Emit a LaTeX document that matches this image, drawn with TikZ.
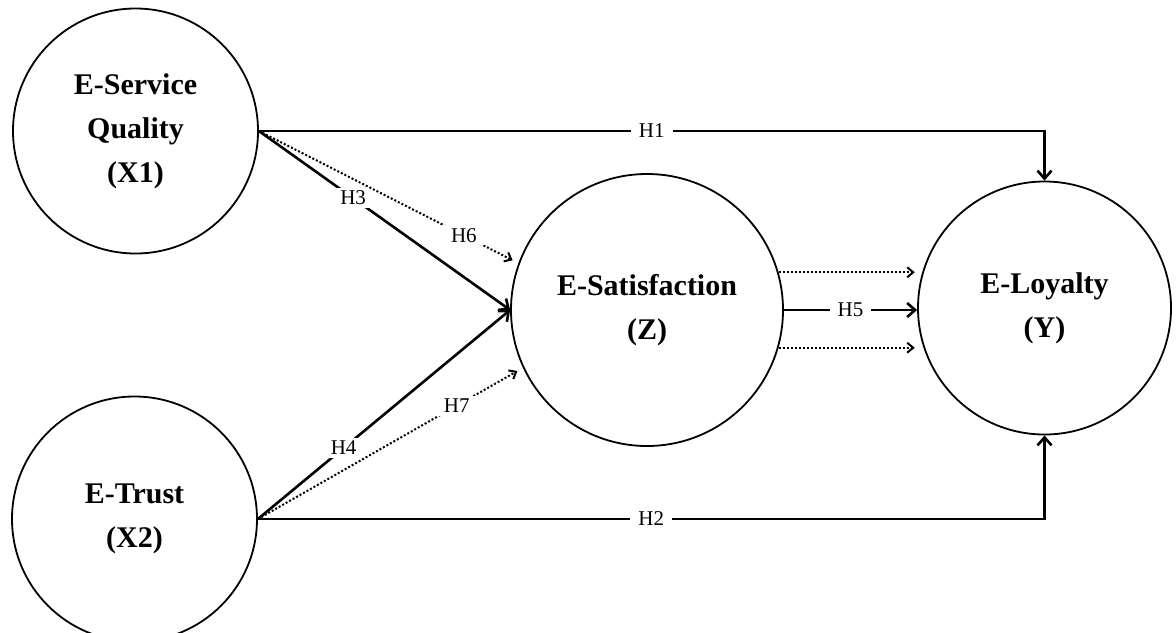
\documentclass[tikz,border=0pt]{standalone}
\usepackage{fontspec}
\setmainfont{Liberation Serif}
\usepackage{tikz}
\usetikzlibrary{arrows.meta, positioning, calc}
\tikzstyle{construct} = [circle, draw=black, line width=0.9pt, inner sep=0pt, align=center, font=\fontsize{15}{22}\selectfont\bfseries]
\tikzstyle{arrow} = [line width=1.3pt, -{Straight Barb[length=4pt,width=7pt,line width=1.3pt]}]
\tikzstyle{dotarrow} = [line width=1pt, dash pattern=on 1pt off 1pt, -{Straight Barb[length=3pt,width=5pt,line width=1pt,sep]}]
\tikzstyle{hyp} = [fill=white, inner xsep=4pt, inner ysep=1.5pt, font=\fontsize{10.5}{12}\selectfont]

\begin{document}
\begin{tikzpicture}[x=0.5pt, y=-0.5pt]
  \useasboundingbox (0,0) rectangle (1176,632);
  \node (quality) [construct, minimum size=122.5pt] at (135.5,131) {E-Service\\Quality\\(X1)};
  \node (trust) [construct, minimum size=122.5pt] at (134.5,519) {E-Trust\\(X2)};
  \node (satis) [construct, minimum size=136pt] at (647,310) {E-Satisfaction\\(Z)};
  \node (loyal) [construct, minimum size=126.5pt] at (1044.5,308) {E-Loyalty\\(Y)};

  \draw[arrow] (quality.east) -- node[hyp] {H1} (quality.east -| loyal.north) -- (loyal.north);
  \draw[arrow] (trust.east) -- node[hyp] {H2} (trust.east -| loyal.south) -- (loyal.south);
  \draw[arrow] (quality.east) -- node[hyp, pos=0.375] {H3} (satis.west);
  \draw[arrow] (trust.east) -- node[hyp, pos=0.34] {H4} (satis.west);
  \draw[dotarrow, shorten >=2pt] (quality.east) -- node[hyp, pos=0.79] {H6} (satis.160);
  \draw[dotarrow, shorten >=2pt] (trust.east) -- node[hyp, pos=0.75] {H7} (satis.205);
  \draw[arrow] (satis.east) -- node[hyp] {H5} (satis.east -| loyal.west);
  \draw[dotarrow] (satis.16) -- (satis.16 -| loyal.west);
  \draw[dotarrow] (satis.-16) -- (satis.-16 -| loyal.west);
\end{tikzpicture}
\end{document}
